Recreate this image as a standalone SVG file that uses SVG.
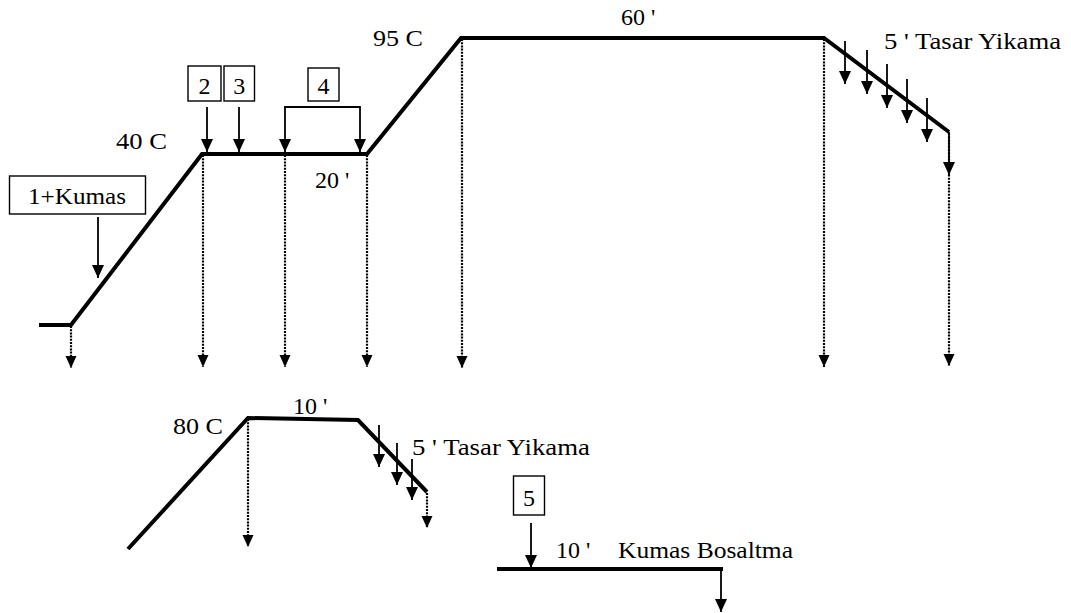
<svg xmlns="http://www.w3.org/2000/svg" width="1071" height="613" viewBox="0 0 1071 613">
  <defs>
    <style>
      .profile { fill: none; stroke: #000; stroke-width: 4; stroke-linejoin: miter; }
      .arrow { fill: none; stroke: #000; stroke-width: 1.8; marker-end: url(#head); }
      .dotted { fill: none; stroke: #000; stroke-width: 2.2; stroke-dasharray: 2 1.2; marker-end: url(#head-small); }
      .plain { fill: none; stroke: #000; stroke-width: 1.8; }
      .box { fill: #fff; stroke: #000; stroke-width: 1.4; }
      text { font-family: 'Liberation Serif', 'Times New Roman', 'DejaVu Serif', serif; font-size: 24px; fill: #000; }
      .mid { text-anchor: middle; }
    </style>
    <marker id="head" markerUnits="userSpaceOnUse" markerWidth="15" markerHeight="13" refX="13" refY="6" orient="auto">
      <path d="M0,0 L13,6 L0,12 z" fill="#000"/>
    </marker>
    <marker id="head-small" markerUnits="userSpaceOnUse" markerWidth="14" markerHeight="13" refX="12" refY="6" orient="auto">
      <path d="M0,0.5 L12,6 L0,11.5 z" fill="#000"/>
    </marker>
  </defs>

  <!-- temperature profiles -->
  <g id="profile-main">
    <polyline class="profile" points="39,325 71,325 202,154 367,154 461,38 824,38 949,132"/>
  </g>
  <g id="profile-rinse">
    <polyline class="profile" points="128,549 248,418 358,420 427,492"/>
  </g>
  <g id="profile-unload">
    <line class="profile" x1="497" y1="569" x2="723" y2="569"/>
  </g>

  <!-- connectors -->
  <g id="connectors">
    <!-- time markers -->
    <line class="dotted" x1="71" y1="326" x2="71" y2="368"/>
    <line class="dotted" x1="203" y1="155" x2="203" y2="367"/>
    <line class="dotted" x1="285" y1="155" x2="285" y2="367"/>
    <line class="dotted" x1="367" y1="155" x2="367" y2="367"/>
    <line class="dotted" x1="462" y1="39" x2="462" y2="368"/>
    <line class="dotted" x1="824" y1="39" x2="824" y2="367"/>
    <line class="dotted" x1="949" y1="133" x2="949" y2="366"/>
    <line class="dotted" x1="248" y1="419" x2="248" y2="547"/>
    <line class="dotted" x1="427" y1="493" x2="427" y2="528"/>

    <!-- dosing arrows -->
    <line class="arrow" x1="98" y1="217" x2="98" y2="278"/>
    <line class="arrow" x1="207" y1="107" x2="207" y2="152"/>
    <line class="arrow" x1="239" y1="107" x2="239" y2="152"/>
    <polyline class="plain" points="285,108 285,107 360,107 360,108"/>
    <line class="arrow" x1="285" y1="107" x2="285" y2="152"/>
    <line class="arrow" x1="360" y1="107" x2="360" y2="152"/>
    <line class="arrow" x1="531" y1="523" x2="531" y2="568"/>
    <line class="arrow" x1="721" y1="569" x2="721" y2="612"/>

    <!-- rinse arrows, hot stage -->
    <line class="arrow" x1="845" y1="41" x2="845" y2="84"/>
    <line class="arrow" x1="867" y1="50" x2="867" y2="94"/>
    <line class="arrow" x1="887" y1="64" x2="887" y2="108"/>
    <line class="arrow" x1="907" y1="79" x2="907" y2="123"/>
    <line class="arrow" x1="927" y1="98" x2="927" y2="142"/>
    <line class="arrow" x1="949" y1="132" x2="949" y2="175"/>

    <!-- rinse arrows, 80 C stage -->
    <line class="arrow" x1="379" y1="425" x2="379" y2="467"/>
    <line class="arrow" x1="397" y1="443" x2="397" y2="485"/>
    <line class="arrow" x1="412" y1="459" x2="412" y2="500"/>
  </g>

  <!-- dosing boxes -->
  <g id="dose-1">
    <rect class="box" x="9.5" y="176" width="136" height="38"/>
    <text class="mid" x="77" y="204" textLength="98" lengthAdjust="spacingAndGlyphs">1+Kumas</text>
  </g>
  <g id="dose-2">
    <rect class="box" x="188" y="66" width="33" height="35"/>
    <text class="mid" x="204.5" y="94">2</text>
  </g>
  <g id="dose-3">
    <rect class="box" x="224" y="66" width="30.5" height="35"/>
    <text class="mid" x="239.2" y="94">3</text>
  </g>
  <g id="dose-4">
    <rect class="box" x="308" y="68" width="31" height="33"/>
    <text class="mid" x="323.5" y="94">4</text>
  </g>
  <g id="dose-5">
    <rect class="box" x="513.5" y="476" width="31" height="39"/>
    <text class="mid" x="529" y="506">5</text>
  </g>

  <!-- labels -->
  <g id="labels">
    <text x="116" y="149" textLength="51" lengthAdjust="spacingAndGlyphs">40 C</text>
    <text x="315" y="188">20 '</text>
    <text x="373" y="46" textLength="50" lengthAdjust="spacingAndGlyphs">95 C</text>
    <text x="621" y="25">60 '</text>
    <text x="884" y="49" textLength="177" lengthAdjust="spacingAndGlyphs">5 ' Tasar Yikama</text>
    <text x="173" y="434" textLength="50" lengthAdjust="spacingAndGlyphs">80 C</text>
    <text x="293" y="414">10 '</text>
    <text x="412" y="455" textLength="178" lengthAdjust="spacingAndGlyphs">5 ' Tasar Yikama</text>
    <text x="556" y="558">10 '</text>
    <text x="618" y="558" textLength="175" lengthAdjust="spacingAndGlyphs">Kumas Bosaltma</text>
  </g>
</svg>
